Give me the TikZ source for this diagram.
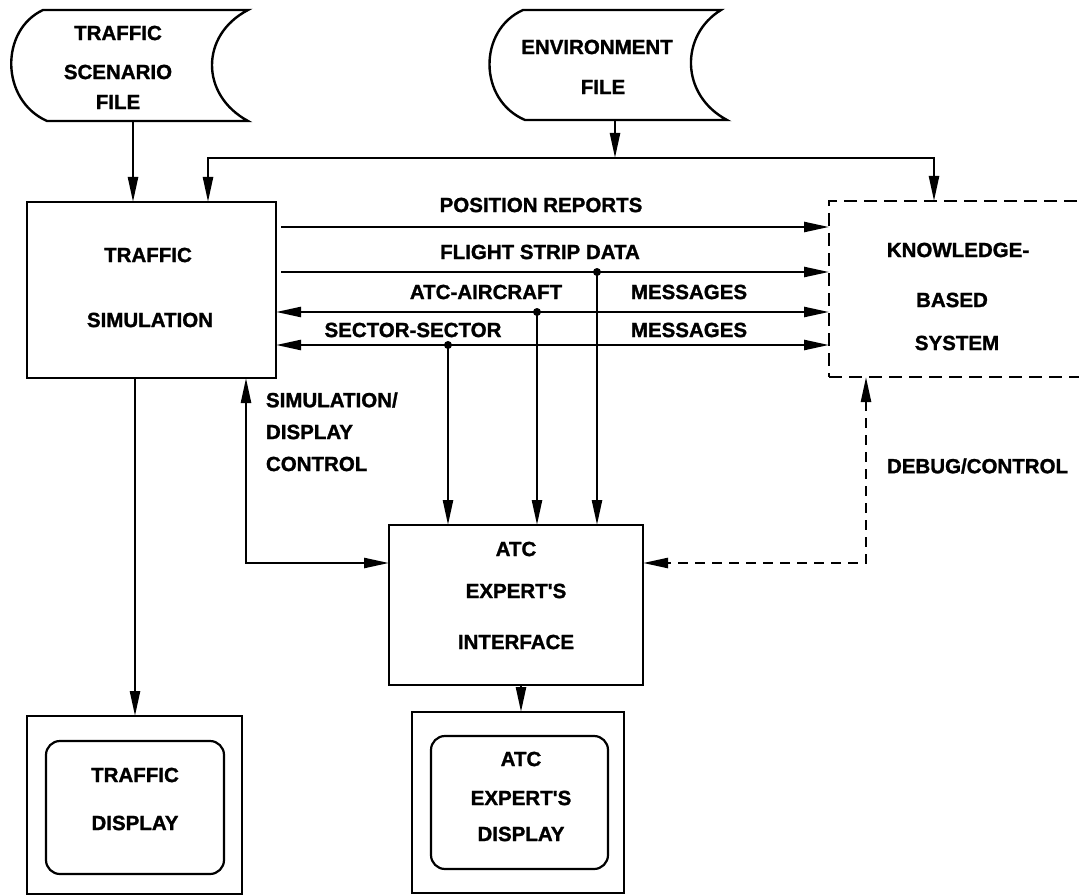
\documentclass[tikz,border=0pt]{standalone}
\usepackage{fontspec}
\setmainfont{Liberation Sans}[BoldFeatures={FakeBold=1.3}]
\usetikzlibrary{arrows.meta}
\begin{document}
\begin{tikzpicture}[x=1pt,y=-1pt,
  line width=2.4pt,
  every node/.style={font=\fontsize{20.5}{22}\selectfont\bfseries, inner sep=0pt, outer sep=0pt},
  box/.style={draw, rectangle, line width=2.4pt},
  dbox/.style={draw, rectangle, line width=2.6pt, dash pattern=on 13pt off 7pt},
  ghost/.style={rectangle},
  tip/.tip={Triangle[length=25pt,width=10pt]},
  arr/.style={-tip},
  barr/.style={tip-tip},
  darr/.style={tip-tip, line width=2.4pt, dash pattern=on 10pt off 7pt},
  lbl/.style={anchor=center},
  jdot/.style={circle, fill, minimum size=8pt}
]
\useasboundingbox (0,0) rectangle (1079,896);
\fill[white] (0,0) rectangle (1079,896);

% --- file shapes
\node[ghost, minimum width=238pt, minimum height=111pt] (sf) at (129,65.5) {};
\draw (43,10) -- (248,10) .. controls (200,35) and (200,95) .. (248,121)
      -- (47,121) .. controls (0,100) and (0,30) .. (43,10) -- cycle;
\node[lbl] (sf1) at (118,33) {TRAFFIC};
\node[lbl] (sf2) at (118,72) {SCENARIO};
\node[lbl] (sf3) at (118,102) {FILE};

\node[ghost, minimum width=237pt, minimum height=110pt] (ef) at (608.5,65) {};
\draw (523,10) -- (721,10) .. controls (680,35) and (680,95) .. (727,120)
      -- (525,120) .. controls (478,100) and (478,30) .. (523,10) -- cycle;
\node[lbl] (ef1) at (597,47) {ENVIRONMENT};
\node[lbl] (ef2) at (603,87) {FILE};

% --- main boxes
\node[box, minimum width=249pt, minimum height=176pt] (tsim) at (151.5,290) {};
\node[lbl] (ts1) at (148,255) {TRAFFIC};
\node[lbl] (ts2) at (150,320) {SIMULATION};

\node[dbox, minimum width=256pt, minimum height=176pt] (kb) at (957,289) {};
\node[lbl] (kb1) at (958,250) {KNOWLEDGE-};
\node[lbl] (kb2) at (952,300) {BASED};
\node[lbl] (kb3) at (957,343) {SYSTEM};

\node[box, minimum width=254pt, minimum height=160pt] (atc) at (516,605) {};
\node[lbl] (at1) at (516,549) {ATC};
\node[lbl] (at2) at (516,591) {EXPERT\textquotesingle S};
\node[lbl] (at3) at (516,642) {INTERFACE};

\node[box, minimum width=215pt, minimum height=178pt] (tdisp) at (134.5,805) {};
\node[draw, rectangle, rounded corners=14pt, line width=2.2pt, minimum width=178pt, minimum height=133pt] (tdin) at (135,807.5) {};
\node[lbl] (td1) at (135,775) {TRAFFIC};
\node[lbl] (td2) at (135,823) {DISPLAY};

\node[box, minimum width=212pt, minimum height=181pt] (adisp) at (518,802.5) {};
\node[draw, rectangle, rounded corners=14pt, line width=2.2pt, minimum width=177pt, minimum height=133pt] (adin) at (519.5,802.5) {};
\node[lbl] (ad1) at (521,759) {ATC};
\node[lbl] (ad2) at (521,798) {EXPERT\textquotesingle S};
\node[lbl] (ad3) at (521,834) {DISPLAY};

% --- file connectors
\draw[arr] (133,0 |- sf.south) -- (133,0 |- tsim.north);
\coordinate (bus) at (615,158);
\draw[arr] (615,0 |- ef.south) -- (bus);
\draw[arr] (bus) -- (208,158) -- (208,0 |- tsim.north);
\draw[arr] (bus) -- (934,158) -- (934,0 |- kb.north);

% --- data lines
\draw[arr, shorten <=5pt] (tsim.east |- 0,227) -- (kb.west |- 0,227);
\draw[arr, shorten <=5pt] (tsim.east |- 0,272) -- (kb.west |- 0,272);
\draw[barr] (tsim.east |- 0,312) -- (kb.west |- 0,312);
\draw[barr] (tsim.east |- 0,345) -- (kb.west |- 0,345);

\node[lbl] (l1) at (541,205) {POSITION REPORTS};
\node[lbl] (l2) at (540,252) {FLIGHT STRIP DATA};
\node[lbl] (l3) at (486,292) {ATC-AIRCRAFT};
\node[lbl] (l4) at (689,292) {MESSAGES};
\node[lbl] (l5) at (413,330) {SECTOR-SECTOR};
\node[lbl] (l6) at (689,330) {MESSAGES};

% --- junctions to ATC interface
\node[jdot] (j1) at (597,272) {};
\node[jdot] (j2) at (537,312) {};
\node[jdot] (j3) at (448,345) {};
\draw[arr] (j1.center) -- (597,0 |- atc.north);
\draw[arr] (j2.center) -- (537,0 |- atc.north);
\draw[arr] (j3.center) -- (448,0 |- atc.north);

% --- control lines
\draw[barr] (246,0 |- tsim.south) |- (atc.west |- 0,563);
\node[anchor=west] (sc1) at (266,400) {SIMULATION/};
\node[anchor=west] (sc2) at (266,432) {DISPLAY};
\node[anchor=west] (sc3) at (266,464) {CONTROL};

\draw[darr] (866,0 |- kb.south) |- (atc.east |- 0,563);
\node[anchor=west] (dc) at (887,466) {DEBUG/CONTROL};

% --- display connectors
\draw[arr] (135,0 |- tsim.south) -- (135,0 |- tdisp.north);
\draw[arr] (521,0 |- atc.south) -- (521,0 |- adisp.north);
\end{tikzpicture}
\end{document}
